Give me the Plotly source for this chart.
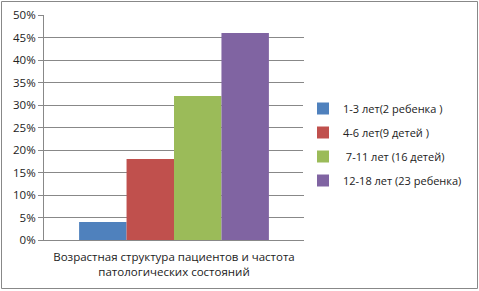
import plotly.graph_objects as go

category = ["Возрастная структура пациентов и частота<br>патологических состояний"]
series_names = ["1-3 лет(2 ребенка )", "4-6 лет(9 детей )", " 7-11 лет (16 детей)", "12-18 лет (23 ребенка)"]
series_values = [0.04, 0.18, 0.32, 0.46]
colors = ["#4F81BD", "#C0504D", "#9BBB59", "#8064A2"]
y_ticks = [0, 0.05, 0.10, 0.15, 0.20, 0.25, 0.30, 0.35, 0.40, 0.45, 0.50]

fig = go.Figure()
for i, (n, v, c) in enumerate(zip(series_names, series_values, colors)):
    fig.add_trace(go.Bar(x=category, y=[v], name=n, marker=dict(color=c, line=dict(width=0)),
                         legendgroup=str(i)))

W, H = 479, 291
ml, mr, mt, mb = 44, 175, 15, 51
pw, ph = W - ml - mr, H - mt - mb

fig.update_layout(
    width=W, height=H,
    margin=dict(l=ml, r=mr, t=mt, b=mb, autoexpand=False),
    paper_bgcolor="white", plot_bgcolor="white",
    font=dict(family="Open Sans, Liberation Sans, sans-serif", size=11, color="#333333"),
    barmode="group", bargap=0.27, bargroupgap=0,
    showlegend=True,
    legend=dict(x=(303 - ml) / pw, y=(240 - 94) / ph, xanchor="left", yanchor="top",
                traceorder="grouped", tracegroupgap=5,
                font=dict(size=11, color="#222222"), itemwidth=30),
    xaxis=dict(showline=True, linecolor="#888888", ticks="outside", ticklen=0, automargin=False,
               ticklabelstandoff=6, tickfont=dict(size=11.5, color="#222222")),
    yaxis=dict(range=[0, 0.5], tickvals=y_ticks, tickformat=".0%", automargin=False,
               showgrid=True, gridcolor="#888888", gridwidth=1,
               showline=True, linecolor="#888888", ticks="outside", ticklen=5, tickcolor="#888888",
               tickfont=dict(size=11.5, color="#222222"), zeroline=False),
)
fig.add_shape(type="rect", xref="paper", yref="paper",
              x0=(1.5 - ml) / pw, x1=(477.5 - ml) / pw,
              y0=(H - mb - 288.5) / ph, y1=(H - mb - 1.5) / ph,
              line=dict(color="#888888", width=1), fillcolor="rgba(0,0,0,0)", layer="above")
fig.write_html("out.html", config={"displayModeBar": False},
               post_script="document.body.style.margin='0';")
